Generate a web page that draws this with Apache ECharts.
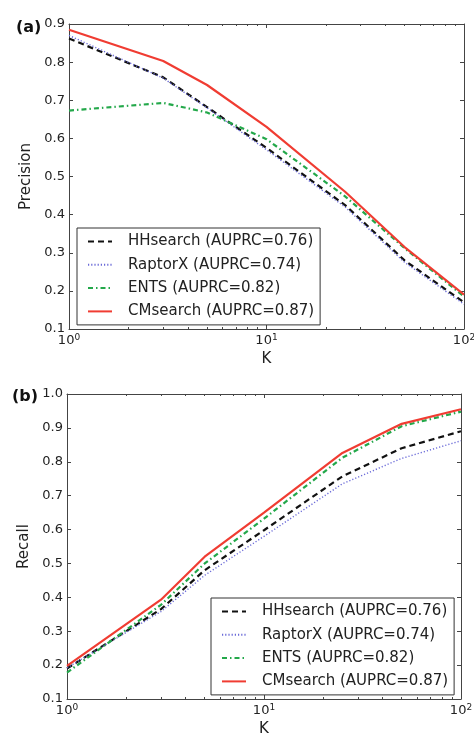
<!DOCTYPE html>
<html>
<head>
<meta charset="utf-8">
<script src="https://cdn.jsdelivr.net/npm/echarts@6/dist/echarts.min.js"></script>
<style>
html,body{margin:0;padding:0;background:#fff;}
#chart{width:474px;height:734px;}
</style>
</head>
<body>
<div id="chart"></div>
<script>
// ---- data ----
const K = [1, 3, 5, 10, 25, 50, 100];
const seriesNames = ['HHsearch (AUPRC=0.76)', 'RaptorX (AUPRC=0.74)', 'ENTS (AUPRC=0.82)', 'CMsearch (AUPRC=0.87)'];
// Panel (a): Precision
const precHH     = [0.862, 0.760, 0.682, 0.575, 0.425, 0.280, 0.170];
const precRaptor = [0.870, 0.758, 0.680, 0.570, 0.420, 0.275, 0.165];
const precENTS   = [0.673, 0.693, 0.668, 0.598, 0.448, 0.312, 0.185];
const precCM     = [0.885, 0.803, 0.740, 0.630, 0.460, 0.315, 0.190];
// Panel (b): Recall
const recHH     = [0.190, 0.365, 0.480, 0.598, 0.757, 0.840, 0.890];
const recRaptor = [0.192, 0.358, 0.465, 0.580, 0.735, 0.810, 0.862];
const recENTS   = [0.178, 0.378, 0.500, 0.632, 0.812, 0.905, 0.948];
const recCM     = [0.198, 0.393, 0.520, 0.650, 0.826, 0.912, 0.955];
const minorTickValues = [2,3,4,5,6,7,8,9,20,30,40,50,60,70,80,90];

// ---- styles ----
const FONT = 'DejaVu Sans';
const AX = '#444';
const TXT = '#222';
const styles = [
  {color: '#111', type: [6, 4], width: 2.2},
  {color: '#6a6ad8', type: [1.2, 2], width: 1.4},
  {color: '#23a84a', type: [5, 3, 1.5, 3], width: 2.2},
  {color: '#f03c32', type: 'solid', width: 2.2}
];

const grids = [
  {left: 69, right: 10, top: 24, height: 305, outerBoundsMode: 'none', containLabel: false},
  {left: 67, right: 13, top: 394, height: 305, outerBoundsMode: 'none', containLabel: false}
];

const option = {
  animation: false,
  backgroundColor: '#fff',
  textStyle: {fontFamily: FONT},
  title: [
    {text: '(a)', left: 11, top: 15, textStyle: {fontFamily: FONT, fontSize: 16, fontWeight: 'bold', color: '#111'}},
    {text: '(b)', left: 7, top: 384, textStyle: {fontFamily: FONT, fontSize: 16, fontWeight: 'bold', color: '#111'}}
  ],
  grid: grids,
  legend: [],
  xAxis: [],
  yAxis: [],
  series: []
};

function xLabelFmt(v) {
  return '10{sup|' + Math.round(Math.log10(v)) + '}';
}

function addPanel(p, yMin, yMax, yName, data, legendPos) {
  const gi = p;
  const base = option.xAxis.length;
  option.xAxis.push({
    type: 'log', logBase: 10, min: 1, max: 100, gridIndex: gi, position: 'bottom',
    name: 'K', nameLocation: 'middle', nameGap: 23,
    nameTextStyle: {fontFamily: FONT, fontSize: 15, color: TXT},
    axisLine: {show: true, lineStyle: {color: AX, width: 1}},
    axisTick: {show: true, inside: true, length: 4, lineStyle: {color: AX}},
    splitLine: {show: false},
    axisLabel: {
      show: true, margin: 4, formatter: xLabelFmt, color: TXT, fontFamily: FONT, fontSize: 13,
      rich: {sup: {fontSize: 9, fontFamily: FONT, color: TXT, verticalAlign: 'top', padding: [0, 0, 7, 0]}}
    }
  });
  option.xAxis.push({
    type: 'log', logBase: 10, min: 1, max: 100, gridIndex: gi, position: 'top',
    axisLine: {show: true, lineStyle: {color: AX, width: 1}},
    axisTick: {show: true, inside: true, length: 4, lineStyle: {color: AX}},
    axisLabel: {show: false}, splitLine: {show: false}
  });
  ['bottom', 'top'].forEach(pos => {
    option.xAxis.push({
      type: 'log', logBase: 10, min: 1, max: 100, gridIndex: gi, position: pos,
      axisLine: {show: false},
      axisTick: {show: true, inside: true, length: 2, customValues: minorTickValues, lineStyle: {color: AX}},
      axisLabel: {show: false}, splitLine: {show: false}
    });
  });
  const ybase = option.yAxis.length;
  option.yAxis.push({
    type: 'value', min: yMin, max: yMax, interval: 0.1, gridIndex: gi, position: 'left',
    name: yName, nameLocation: 'middle', nameGap: 31, nameRotate: 90,
    nameTextStyle: {fontFamily: FONT, fontSize: 15, color: TXT},
    axisLine: {show: true, lineStyle: {color: AX, width: 1}},
    axisTick: {show: true, inside: true, length: 4, lineStyle: {color: AX}},
    splitLine: {show: false},
    axisLabel: {margin: 4, color: TXT, fontFamily: FONT, fontSize: 13, formatter: v => v.toFixed(1)}
  });
  option.yAxis.push({
    type: 'value', min: yMin, max: yMax, interval: 0.1, gridIndex: gi, position: 'right',
    axisLine: {show: true, lineStyle: {color: AX, width: 1}},
    axisTick: {show: true, inside: true, length: 4, lineStyle: {color: AX}},
    splitLine: {show: false}, axisLabel: {show: false}
  });
  data.forEach((vals, i) => {
    option.series.push({
      type: 'line', name: seriesNames[i], id: 'p' + p + '_' + i,
      xAxisIndex: base, yAxisIndex: ybase,
      data: K.map((k, j) => [k, vals[j]]),
      showSymbol: false, symbol: 'none',
      lineStyle: styles[i], itemStyle: {color: styles[i].color},
      z: 2 + (i === 3 ? 1 : 0)
    });
  });
  option.legend.push(Object.assign({
    orient: 'vertical',
    data: seriesNames.slice(),
    backgroundColor: '#fff', borderColor: '#333', borderWidth: 1,
    padding: [6, 6, 6, 10], itemGap: 8.3, itemWidth: 24, itemHeight: 14,
    itemStyle: {opacity: 0},
    textStyle: {fontFamily: FONT, fontSize: 15, color: TXT, lineHeight: 14, padding: [0, 0, 0, 11]},
    selectedMode: false
  }, legendPos));
}

addPanel(0, 0.1, 0.9, 'Precision', [precHH, precRaptor, precENTS, precCM], {left: 77, top: 228});
addPanel(1, 0.1, 1.0, 'Recall', [recHH, recRaptor, recENTS, recCM], {left: 211, top: 598});

const chart = echarts.init(document.getElementById('chart'), null, {renderer: 'canvas'});
chart.setOption(option);
</script>
</body>
</html>
